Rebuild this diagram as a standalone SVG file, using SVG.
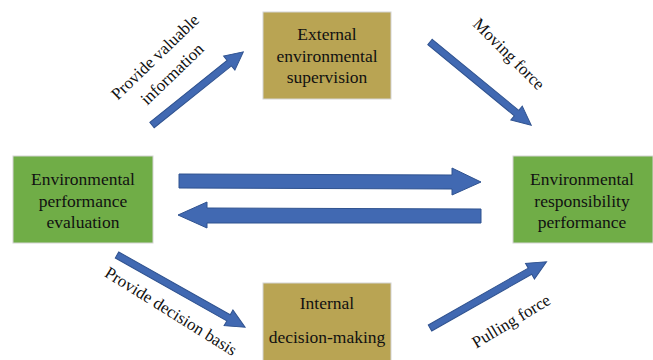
<svg xmlns="http://www.w3.org/2000/svg" width="653" height="360" viewBox="0 0 653 360">
<style>
.gold{fill:#B9A453;stroke:#D4D4D4;stroke-width:1}
.green{fill:#70AD47;stroke:#D4D4D4;stroke-width:1}
.t{font-family:"Liberation Serif","Times New Roman",serif;font-size:17.5px;fill:#111;text-anchor:middle}
.l{font-family:"Liberation Serif","Times New Roman",serif;font-size:17px;fill:#111;text-anchor:middle}
.arr{fill:#4169B2;stroke:#2F528F;stroke-width:1}
</style>
<rect width="653" height="360" fill="#fff"/>
<g id="external">
<rect class="gold" x="263" y="12" width="128" height="87"/>
<text class="t" x="327" y="40">External</text>
<text class="t" x="327" y="62">environmental</text>
<text class="t" x="327" y="83">supervision</text>
</g>
<g id="evaluation">
<rect class="green" x="13" y="156" width="140" height="87"/>
<text class="t" x="83" y="185">Environmental</text>
<text class="t" x="83" y="207">performance</text>
<text class="t" x="83" y="228">evaluation</text>
</g>
<g id="responsibility">
<rect class="green" x="513" y="156" width="140" height="87"/>
<text class="t" x="582" y="185">Environmental</text>
<text class="t" x="582" y="207">responsibility</text>
<text class="t" x="582" y="228">performance</text>
</g>
<g id="internal">
<rect class="gold" x="263" y="283" width="128" height="80"/>
<text class="t" x="327" y="309">Internal</text>
<text class="t" x="327" y="343">decision-making</text>
</g>
<g id="connectors">
<path class="arr" transform="translate(152,125) rotate(-38.7)" d="M0,-3.5 L99,-3.5 L99,-9 L117,0 L99,9 L99,3.5 L0,3.5 Z"/>
<path class="arr" transform="translate(430,42) rotate(39.4)" d="M0,-3.5 L112,-3.5 L112,-9 L131,0 L112,9 L112,3.5 L0,3.5 Z"/>
<path class="arr" transform="translate(117,255) rotate(29.4)" d="M0,-3.5 L128,-3.5 L128,-9 L147,0 L128,9 L128,3.5 L0,3.5 Z"/>
<path class="arr" transform="translate(430,328) rotate(-29.6)" d="M0,-3.5 L115,-3.5 L115,-9 L134,0 L115,9 L115,3.5 L0,3.5 Z"/>
<path class="arr" d="M179,174 L452,175 L452,168 L481,182 L452,195 L452,189 L179,188 Z"/>
<path class="arr" d="M481,209 L207,208 L207,202 L178,215 L207,228 L207,223 L481,223 Z"/>
</g>
<g id="labels">
<text class="l" transform="translate(159,61) rotate(-44)">Provide valuable</text>
<text class="l" transform="translate(176,78) rotate(-44)">information</text>
<text class="l" transform="translate(505,58) rotate(45)">Moving force</text>
<text class="l" transform="translate(168,316) rotate(32)">Provide decision basis</text>
<text class="l" transform="translate(514,326) rotate(-31)">Pulling force</text>
</g>
</svg>
